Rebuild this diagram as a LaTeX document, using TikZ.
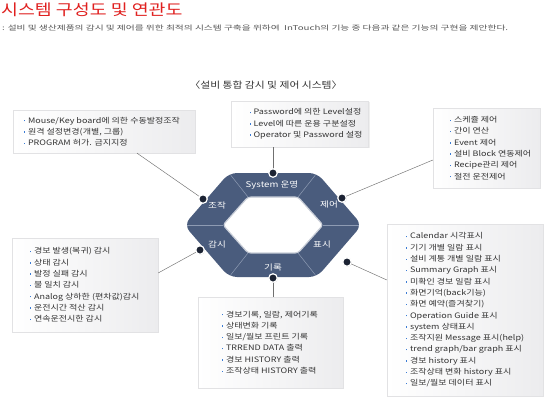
\documentclass[tikz,border=0pt]{standalone}
\usepackage{fontspec}
\setmainfont{Noto Sans CJK KR}
\newfontfamily\kr[FakeStretch=1.2]{Noto Sans CJK KR}
\newfontfamily\krwide[FakeStretch=1.45]{Noto Sans CJK KR}
\usetikzlibrary{shadows,calc}
\definecolor{hexfill}{HTML}{4A5C7D}
\definecolor{hexline}{HTML}{8E9BB3}
\definecolor{titlered}{HTML}{E0201F}
\definecolor{subgray}{HTML}{555555}
\definecolor{txt}{HTML}{333333}
\definecolor{bulblue}{HTML}{3A7BD5}
\definecolor{conngray}{HTML}{707070}
\definecolor{boxedge}{HTML}{E2E2E4}
\definecolor{boxright}{HTML}{ECECEE}
\definecolor{dotfill}{HTML}{1C2333}
\newcommand{\bl}{\textcolor{bulblue}{\rule[0.22em]{1.4pt}{1.4pt}}\hspace{2.6pt}}
\tikzset{
  boxnode/.style={draw=boxedge, line width=0.3pt, left color=white, right color=boxright,
    drop shadow={opacity=0.12, shadow xshift=1pt, shadow yshift=-1pt}, inner sep=0pt},
  listnode/.style={align=left, inner sep=0pt, text=txt, font=\kr\fontsize{7.5}{11.3}\selectfont},
  seglabel/.style={text=white, inner sep=0pt, font=\kr\fontsize{8}{8}\selectfont},
  dotnode/.style={circle, fill=dotfill, draw=white, line width=1.2pt, minimum size=8.5pt, inner sep=0pt,
    drop shadow={opacity=0.25, shadow xshift=0.6pt, shadow yshift=-0.6pt}},
  conn/.style={draw=conngray, line width=0.45pt},
  divider/.style={draw=hexline, line width=0.5pt}
}
\begin{document}
\begin{tikzpicture}[x=1pt,y=-1pt]
\useasboundingbox (0,0) rectangle (550,400);
\fill[white] (0,0) rectangle (550,400);

% titles
\node[anchor=west, inner sep=0pt, text=titlered, font=\kr\fontsize{15.3}{15}\selectfont] (title) at (1,9.5) {시스템 구성도 및 연관도};
\node[anchor=west, inner sep=0pt, text=subgray, font=\krwide\fontsize{6.7}{7}\selectfont] (sub) at (2,27.5) {: 설비 및 생산제품의 감시 및 제어를 위한 최적의 시스템 구축을 위하여\ \ InTouch의 기능 중 다음과 같은 기능의 구현을 제안한다.};
\node[inner sep=0pt, text=txt, font=\kr\fontsize{9}{9}\selectfont] (head) at (266,85) {〈설비 통합 감시 및 제어 시스템〉};

% boxes
\node[boxnode, minimum width=182pt, minimum height=43pt] (b1) at (104,131.5) {};
\node[listnode, anchor=west] (t1) at ([xshift=11pt]b1.west) {\bl Mouse/Key board에 의한 수동발정조작\\ \bl 원격 설정변경(개별, 그룹)\\ \bl PROGRAM 허가. 금지지정};

\node[boxnode, minimum width=137pt, minimum height=46pt] (b2) at (300,124) {};
\node[listnode, anchor=west] (t2) at ([xshift=18pt]b2.west) {\bl Password에 의한 Level설정\\ \bl Level에 따른 운용 구분설정\\ \bl Operator 및 Password 설정};

\node[boxnode, minimum width=107pt, minimum height=80pt] (b3) at (486.5,148) {};
\node[listnode, anchor=west] (t3) at ([xshift=17pt]b3.west) {\bl 스케쥴 제어\\ \bl 간이 연산\\ \bl Event 제어\\ \bl 설비 Block 연동제어\\ \bl Recipe관리 제어\\ \bl 절전 운전제어};

\node[boxnode, minimum width=146pt, minimum height=94pt] (b4) at (85,285) {};
\node[listnode, anchor=west] (t4) at ([xshift=18pt]b4.west) {\bl 경보 발생(복귀) 감시\\ \bl 상태 감시\\ \bl 발정 실패 감시\\ \bl 불 일치 감시\\ \bl Analog 상하한 (편차값)감시\\ \bl 운전시간 적산 감시\\ \bl 연속운전시한 감시};

\node[boxnode, minimum width=145pt, minimum height=91pt] (b5) at (270.5,342.5) {};
\node[listnode, anchor=west] (t5) at ([xshift=24pt]b5.west) {\bl 경보기록, 일람, 제어기록\\ \bl 상태변화 기록\\ \bl 일보/월보 프린트 기록\\ \bl TRREND DATA 출력\\ \bl 경보 HISTORY 출력\\ \bl 조작상태 HISTORY 출력};

\node[boxnode, minimum width=156pt, minimum height=172pt] (b6) at (465,310) {};
\node[listnode, anchor=west] (t6) at ([xshift=19pt]b6.west) {\bl Calendar 시각표시\\ \bl 기기 개별 일람 표시\\ \bl 설비 계통 개별 일람 표시\\ \bl Summary Graph 표시\\ \bl 미확인 경보 일람 표시\\ \bl 화면기억(back기능)\\ \bl 화면 예약(즐겨찾기)\\ \bl Operation Guide 표시\\ \bl system 상태표시\\ \bl 조작지원 Message 표시(help)\\ \bl trend graph/bar graph 표시\\ \bl 경보 history 표시\\ \bl 조작상태 변화 history 표시\\ \bl 일보/월보 데이터 표시};

% hexagon ring
\coordinate (o1) at (184,225); \coordinate (o2) at (229,173); \coordinate (o3) at (317,173);
\coordinate (o4) at (362,225); \coordinate (o5) at (317,277); \coordinate (o6) at (229,277);
\coordinate (i1) at (223,225); \coordinate (i2) at (248,197); \coordinate (i3) at (298,197);
\coordinate (i4) at (323,225); \coordinate (i5) at (298,253); \coordinate (i6) at (248,253);

\fill[hexfill, even odd rule, rounded corners=8pt] (o1) -- (o2) -- (o3) -- (o4) -- (o5) -- (o6) -- cycle
  [rounded corners=3pt] (i1) -- (i2) -- (i3) -- (i4) -- (i5) -- (i6) -- cycle;
\draw[draw=white!70!hexfill, line width=1.2pt, rounded corners=3pt] (i1) -- (i2) -- (i3) -- (i4) -- (i5) -- (i6) -- cycle;
\foreach \k in {1,...,6}{
  \draw[divider] ($(o\k)!3pt!(i\k)$) -- (i\k);
}

\node[seglabel] (lsys) at (272,185) {System 운영};
\node[seglabel] (ljeo) at (329,205) {제어};
\node[seglabel] (lpyo) at (322,245) {표시};
\node[seglabel] (lgi) at (273,267) {기록};
\node[seglabel] (lgam) at (217,245) {감시};
\node[seglabel] (ljo) at (217,205) {조작};

% connectors
\coordinate (dsysp) at (273,173);
\draw[conn] ([xshift=33pt]b1.south) -- (203,199) coordinate (djop);
\draw[conn] ([xshift=-27pt]b2.south) -- (dsysp);
\draw[conn] (342,198) coordinate (djeop) -- ([yshift=-12pt]b3.west);
\draw[conn] ([yshift=12pt]b4.east) -- (200,250) coordinate (dgamp);
\draw[conn] (273,278) coordinate (dgip) -- ([xshift=2.5pt]b5.north);
\draw[conn] (347,262) coordinate (dpyop) -- ([yshift=30pt]b6.west);

% dots
\node[dotnode] (dsys) at (dsysp) {};
\node[dotnode] (djo) at (djop) {};
\node[dotnode] (djeo) at (djeop) {};
\node[dotnode] (dgam) at (dgamp) {};
\node[dotnode] (dgi) at (dgip) {};
\node[dotnode] (dpyo) at (dpyop) {};
\end{tikzpicture}
\end{document}
